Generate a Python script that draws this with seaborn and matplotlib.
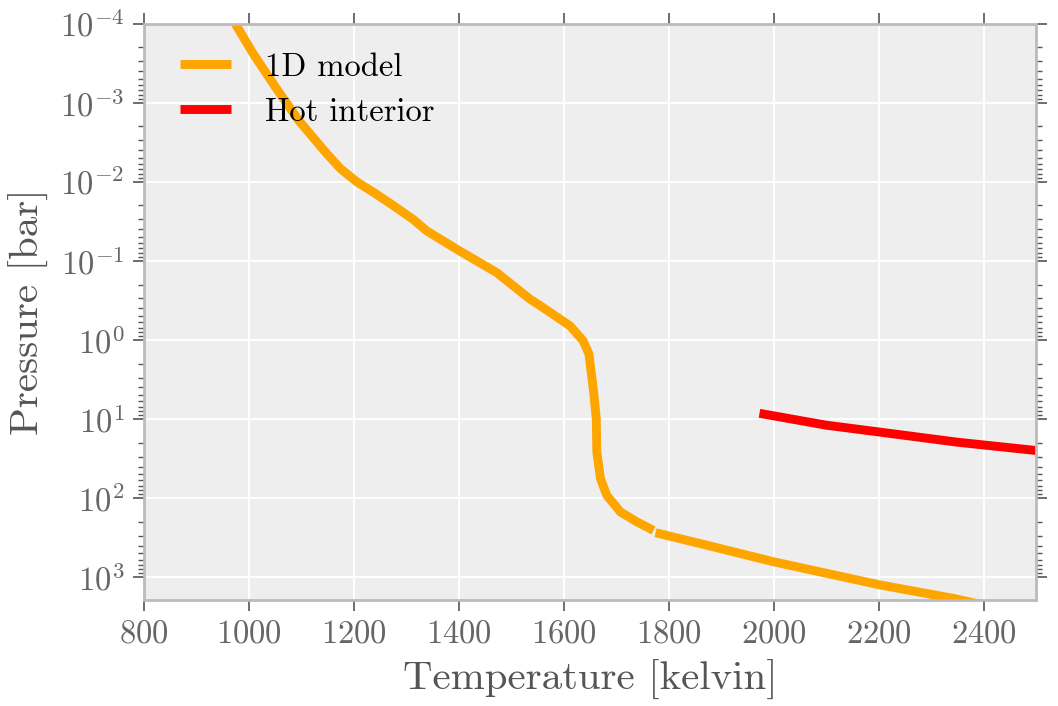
import matplotlib
matplotlib.use("Agg")
import matplotlib.pyplot as plt
import seaborn as sns
import pandas as pd
from matplotlib.lines import Line2D
from matplotlib.ticker import LogLocator, NullFormatter

# ---- data ----
model_T1 = [960, 970, 1008, 1050, 1072, 1094, 1148, 1175, 1205, 1240, 1275,
            1313, 1339, 1402, 1472, 1536, 1555, 1612, 1637, 1648, 1657, 1662,
            1663, 1670, 1682, 1708, 1739, 1771]
model_P1 = [7.4e-5, 9.1e-5, 2.4e-4, 6.3e-4, 1.02e-3, 1.66e-3, 4.4e-3, 6.9e-3,
            1.0e-2, 1.4e-2, 2.0e-2, 3.0e-2, 4.2e-2, 7.55e-2, 0.141, 0.307,
            0.37, 0.667, 1.03, 1.51, 4.6, 10.0, 26.3, 57, 92.7, 150, 200, 257]
model_T2 = [1775, 1860, 2000, 2203, 2343, 2500]
model_P2 = [275, 377, 641, 1259, 1862, 3160]
hot_T = [1973, 2100, 2203, 2350, 2500]
hot_P = [8.5, 12.0, 14.7, 19.7, 25.1]

labels = ["1D model", "Hot interior"]
colors = ["#FFA500", "#FF0000"]

sns.set_style("darkgrid", {
    "axes.facecolor": "#EEEEEE",
    "grid.color": "white",
    "axes.edgecolor": "#BBBBBB",
    "xtick.bottom": True, "ytick.left": True,
})
plt.rcParams["font.family"] = "serif"
plt.rcParams["font.serif"] = ["cmr10", "DejaVu Serif"]
plt.rcParams["mathtext.fontset"] = "cm"
plt.rcParams["axes.formatter.use_mathtext"] = True
plt.rcParams["axes.unicode_minus"] = False

fig = plt.figure(figsize=(10.58, 7.06), dpi=100)
ax = fig.add_axes([144/1058, 1 - 600/706, (1036-144)/1058, (600-23.5)/706])
ax.set_yscale("log")

lw = 6.4
line_kw = dict(sort=False, estimator=None, lw=lw, solid_capstyle="butt", ax=ax)
df1 = pd.DataFrame({"T": model_T1, "P": model_P1})
df2 = pd.DataFrame({"T": model_T2, "P": model_P2})
df3 = pd.DataFrame({"T": hot_T, "P": hot_P})
sns.lineplot(data=df1, x="T", y="P", color=colors[0], **line_kw)
sns.lineplot(data=df2, x="T", y="P", color=colors[0], **line_kw)
sns.lineplot(data=df3, x="T", y="P", color=colors[1], **line_kw)

ax.set_xlim(800, 2500)
ax.set_ylim(1950, 1e-4)
ax.set_xticks([800, 1000, 1200, 1400, 1600, 1800, 2000, 2200, 2400])
ax.yaxis.set_major_locator(LogLocator(base=10, numticks=20))
ax.yaxis.set_minor_locator(LogLocator(base=10, subs=range(2, 10), numticks=20))
ax.yaxis.set_minor_formatter(NullFormatter())

for s in ax.spines.values():
    s.set_linewidth(2.0)
    s.set_color("#BBBBBB")

tick_col = "#555555"
ax.tick_params(axis="both", which="major", direction="out", length=8, width=1.2,
               color=tick_col, labelcolor="#666666", labelsize=23.5, pad=6)
ax.tick_params(axis="x", which="both", top=True, bottom=True)
ax.tick_params(axis="y", which="both", left=True, right=True)
ax.tick_params(axis="y", which="minor", direction="out", length=4, width=1.0, color=tick_col)
ax.grid(True, which="major", color="white", lw=1.4)
ax.grid(False, which="minor")

ax.set_xlabel("Temperature [kelvin]", fontsize=29.5, color="#555555", labelpad=8)
ax.set_ylabel("Pressure [bar]", fontsize=29.5, color="#555555", labelpad=8)

handles = [Line2D([0], [0], color=c, lw=lw, solid_capstyle="butt") for c in colors]
ax.legend(handles, labels, loc="upper left", bbox_to_anchor=(0.0, 1.012),
          frameon=False, fontsize=23.5,
          handlelength=1.56, labelcolor="black", borderaxespad=0.7, borderpad=0.4,
          handletextpad=1.05, labelspacing=0.5)

fig.savefig("out.png", dpi=100)
